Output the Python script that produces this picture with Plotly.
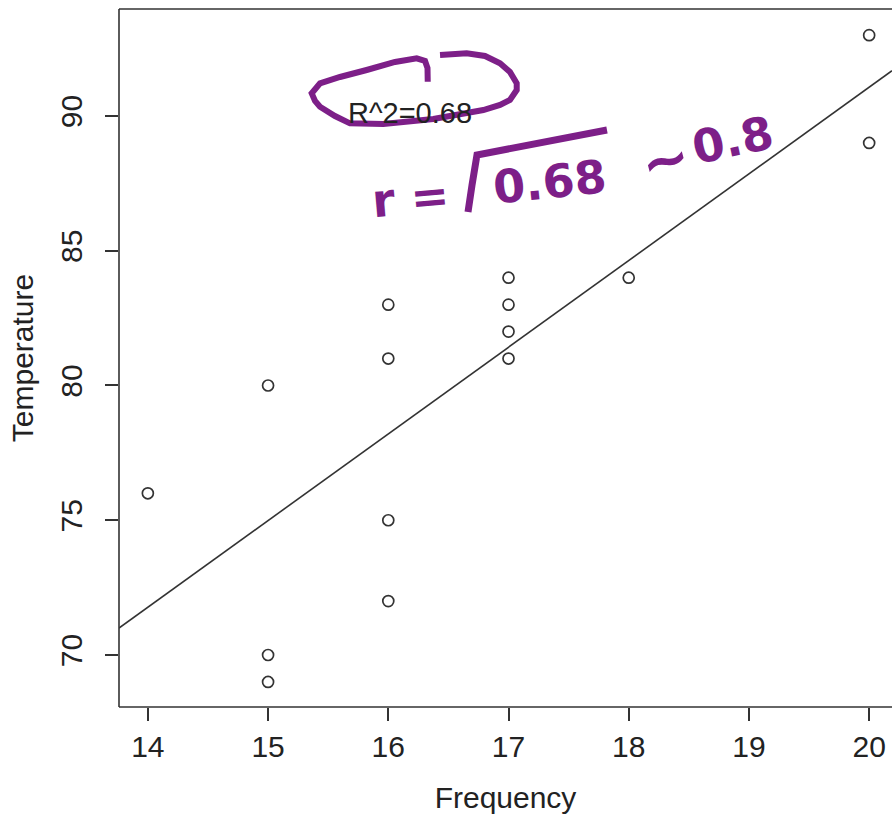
import numpy as np
import plotly.graph_objects as go

# Data
frequency = [14, 15, 15, 15, 16, 16, 16, 16, 17, 17, 17, 17, 18, 20, 20]
temperature = [76, 80, 70, 69, 83, 81, 75, 72, 84, 83, 82, 81, 84, 93, 89]
x_ticks = [14, 15, 16, 17, 18, 19, 20]
y_ticks = [70, 75, 80, 85, 90]
r2_label = "R^2=0.68"

W, H = 892, 818
L, T, R, B = 119, 9, 0, 111
x_range = [13.76, 20.19]
y_range = [68.07, 93.97]

slope, intercept = np.polyfit(frequency, temperature, 1)
line_x = np.array(x_range)
line_y = intercept + slope * line_x

ink = "#333333"
purple = "#7d1f88"

def px(xp):
    return (xp - L) / (W - L - R)

def py(yp):
    return (H - B - yp) / (H - B - T)

def path(points):
    s = "M {:.4f},{:.4f}".format(px(points[0][0]), py(points[0][1]))
    for (a, b) in points[1:]:
        s += " L {:.4f},{:.4f}".format(px(a), py(b))
    return s

fig = go.Figure()
fig.add_trace(go.Scatter(x=line_x, y=line_y, mode="lines",
                         line=dict(color=ink, width=1.6), hoverinfo="skip", showlegend=False))
fig.add_trace(go.Scatter(x=frequency, y=temperature, mode="markers",
                         marker=dict(symbol="circle-open", size=11, color=ink, line=dict(width=1.7)),
                         showlegend=False, cliponaxis=False))

fig.add_annotation(x=16.18, y=90.1, text=r2_label, showarrow=False, xref="x", yref="y",
                   xanchor="center", yanchor="middle",
                   font=dict(size=29, color="#222222"))

# handwritten notes
ellipse = [(427.7, 81.7), (427.5, 68), (425, 61), (416.7, 58.3), (395, 62), (366.7, 70), (340, 77),
           (320, 83.3), (311.7, 93.3), (315, 101), (320, 106.7), (335, 116), (350, 123.3),
           (383.3, 124), (433.3, 119), (483.3, 110), (500, 105), (510, 100), (516.7, 90),
           (516.7, 83.3), (510, 72), (500, 63.3), (485, 56), (466.7, 53.3), (440, 55)]
fig.add_shape(type="path", xref="paper", yref="paper", path=path(ellipse),
              line=dict(color=purple, width=6))
sqrt_sign = [(468, 212), (472, 185), (477, 155), (607, 130)]
fig.add_shape(type="path", xref="paper", yref="paper", path=path(sqrt_sign),
              line=dict(color=purple, width=7))

hw_font = dict(family="DejaVu Sans", size=46, color=purple)
notes = [("<b>r =</b>", 410, 198, -5, 46), ("<b>0.68</b>", 550, 182, -6, 46),
         ("<b>~</b>", 665, 160, -15, 58), ("<b>0.8</b>", 733, 140, -12, 46)]
for (txt, xx, yy, ang, sz) in notes:
    fig.add_annotation(xref="paper", yref="paper", x=px(xx), y=py(yy), text=txt,
                       xanchor="center", yanchor="middle",
                       showarrow=False, font=dict(family="DejaVu Sans", size=sz, color=purple),
                       textangle=ang)

# box (right side is off-canvas)
for (x0, y0, x1, y1) in [(0, 0, 0, 1), (0, 0, 1.05, 0), (0, 1, 1.05, 1)]:
    fig.add_shape(type="line", xref="paper", yref="paper", x0=x0, y0=y0, x1=x1, y1=y1,
                  line=dict(color=ink, width=1.6))

axis_font = dict(family="Liberation Sans, Arial, sans-serif", size=30, color="#222222")
fig.update_xaxes(range=x_range, tickvals=x_ticks, ticks="outside", ticklen=13, tickwidth=1.6,
                 tickcolor=ink, showgrid=False, zeroline=False, showline=False,
                 tickfont=axis_font, title=dict(text="Frequency", font=axis_font, standoff=24))
fig.update_yaxes(range=y_range, tickvals=y_ticks, ticks="outside", ticklen=13, tickwidth=1.6,
                 tickcolor=ink, showgrid=False, zeroline=False, showline=False,
                 tickfont=axis_font, tickangle=-90, ticklabelstandoff=11,
                 title=dict(text="Temperature", font=axis_font, standoff=12))

fig.update_layout(width=W, height=H, margin=dict(l=L, t=T, r=R, b=B),
                  plot_bgcolor="white", paper_bgcolor="white",
                  font=axis_font, showlegend=False)

fig.write_html("out.html", config={"displayModeBar": False},
               post_script="document.body.style.margin='0';document.body.style.overflow='hidden';")
